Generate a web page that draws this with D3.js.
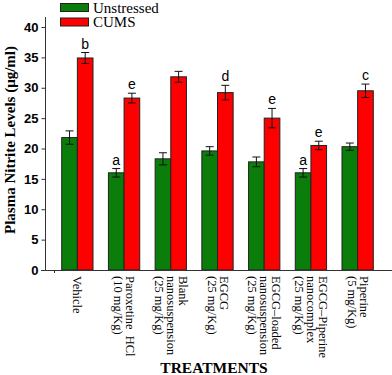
<!DOCTYPE html>
<html><head><meta charset="utf-8">
<script src="https://cdn.jsdelivr.net/npm/d3@7"></script>
<style>body{margin:0;background:#fff}svg{display:block}</style>
</head><body>
<script>
const categories = ["Vehicle", "Paroxetine  HCl\n(10 mg/Kg)", "Blank\nnanosuspension\n(25 mg/Kg)", "EGCG\n(25 mg/Kg)", "EGCG–loaded\nnanosuspension\n(25 mg/Kg)", "EGCG–Piperine\nnanocomplex\n(25 mg/Kg)", "Piperine\n(5 mg/Kg)"];
const seriesNames = ["Unstressed", "CUMS"];
const unstressed = [21.8, 16.0, 18.3, 19.6, 17.8, 16.0, 20.3];
const unstressedErr = [1.1, 0.7, 1.0, 0.7, 0.8, 0.7, 0.6];
const cums = [34.9, 28.3, 31.8, 29.2, 25.0, 20.5, 29.5];
const cumsErr = [0.9, 0.8, 0.9, 1.2, 1.6, 0.7, 1.1];
const unstressedLetters = ["", "a", "", "", "", "a", ""];
const cumsLetters = ["b", "e", "", "d", "e", "e", "c"];
const yTicks = [0, 5, 10, 15, 20, 25, 30, 35, 40];
const colors = ["#0a7d0a", "#ff0000"];

const W = 392, H = 375;
const svg = d3.select("body").append("svg").attr("width", W).attr("height", H);

const x = d3.scaleBand().domain(categories).range([54, 381]).paddingInner(0.33).paddingOuter(0.165);
const xs = d3.scaleBand().domain(seriesNames).range([0, x.bandwidth()]);
const y = d3.scaleLinear().domain([0, 40]).range([270, 27]);

const series = [
  {name: "Unstressed", vals: unstressed, err: unstressedErr, letters: unstressedLetters, color: colors[0]},
  {name: "CUMS", vals: cums, err: cumsErr, letters: cumsLetters, color: colors[1]}
];

// bars
series.forEach(s => {
  const g = svg.append("g");
  g.selectAll("rect").data(categories).join("rect")
    .attr("x", (c) => x(c) + xs(s.name))
    .attr("y", (c, i) => y(s.vals[i]))
    .attr("width", xs.bandwidth())
    .attr("height", (c, i) => y(0) - y(s.vals[i]))
    .attr("fill", s.color)
    .attr("stroke", "#222").attr("stroke-width", 1);
  // error bars
  categories.forEach((c, i) => {
    const cx = x(c) + xs(s.name) + xs.bandwidth() / 2;
    const lo = y(s.vals[i] - s.err[i]), hi = y(s.vals[i] + s.err[i]);
    g.append("line").attr("x1", cx).attr("x2", cx).attr("y1", lo).attr("y2", hi).attr("stroke", "#111").attr("stroke-width", 1);
    [lo, hi].forEach(yy => g.append("line").attr("x1", cx - 4).attr("x2", cx + 4).attr("y1", yy).attr("y2", yy).attr("stroke", "#111").attr("stroke-width", 1));
    if (s.letters[i]) {
      g.append("text").attr("x", cx).attr("y", hi - 4).attr("text-anchor", "middle")
        .attr("font-family", "Liberation Sans, Arial, sans-serif").attr("font-size", 14)
        .attr("fill", "#000").text(s.letters[i]);
    }
  });
});

// y axis
const yAxis = d3.axisLeft(y).tickValues(yTicks).tickSize(4).tickPadding(3);
const ya = svg.append("g").attr("transform", "translate(45.5,0)").call(yAxis);
ya.select(".domain").remove();
ya.append("line").attr("x1", 0).attr("x2", 0).attr("y1", 17).attr("y2", 270).attr("stroke", "#333");
ya.selectAll(".tick line").attr("stroke", "#333");
ya.selectAll("text").attr("font-family", "Liberation Sans, Arial, sans-serif").attr("font-weight", "bold").attr("font-size", 13).attr("fill", "#000");

// x axis line
svg.append("line").attr("x1", 41).attr("x2", 392).attr("y1", 270.5).attr("y2", 270.5).attr("stroke", "#333");
svg.append("line").attr("x1", 54.5).attr("x2", 54.5).attr("y1", 270.5).attr("y2", 273).attr("stroke", "#333");

// x labels
const lh = 12;
categories.forEach(c => {
  const lines = c.split("\n");
  const cx = x(c) + x.bandwidth() / 2;
  const t = svg.append("text").attr("transform", `translate(${cx},276) rotate(90)`)
    .attr("font-family", "Liberation Serif, Times New Roman, serif").attr("font-size", 12.5).attr("fill", "#000");
  lines.forEach((l, i) => {
    t.append("tspan").attr("x", 0).attr("y", (i - (lines.length - 1) / 2) * lh + 4).attr("xml:space", "preserve").text(l);
  });
});

// axis titles
svg.append("text").attr("transform", "translate(15,140) rotate(-90)").attr("text-anchor", "middle")
  .attr("font-family", "Liberation Serif, Times New Roman, serif").attr("font-weight", "bold").attr("font-size", 15)
  .attr("fill", "#000").text("Plasma Nitrite Levels (μg/ml)");
svg.append("text").attr("x", 214).attr("y", 373).attr("text-anchor", "middle")
  .attr("font-family", "Liberation Serif, Times New Roman, serif").attr("font-weight", "bold").attr("font-size", 15.5)
  .attr("fill", "#000").text("TREATMENTS");

// legend
const lg = svg.append("g");
seriesNames.forEach((n, i) => {
  lg.append("rect").attr("x", 60.5).attr("y", 3.5 + i * 14.5).attr("width", 28).attr("height", 8)
    .attr("fill", colors[i]).attr("stroke", "#222");
  lg.append("text").attr("x", 93).attr("y", 12.5 + i * 14.5)
    .attr("font-family", "Liberation Serif, Times New Roman, serif").attr("font-size", 15).attr("fill", "#000").text(n);
});
</script>
</body></html>
